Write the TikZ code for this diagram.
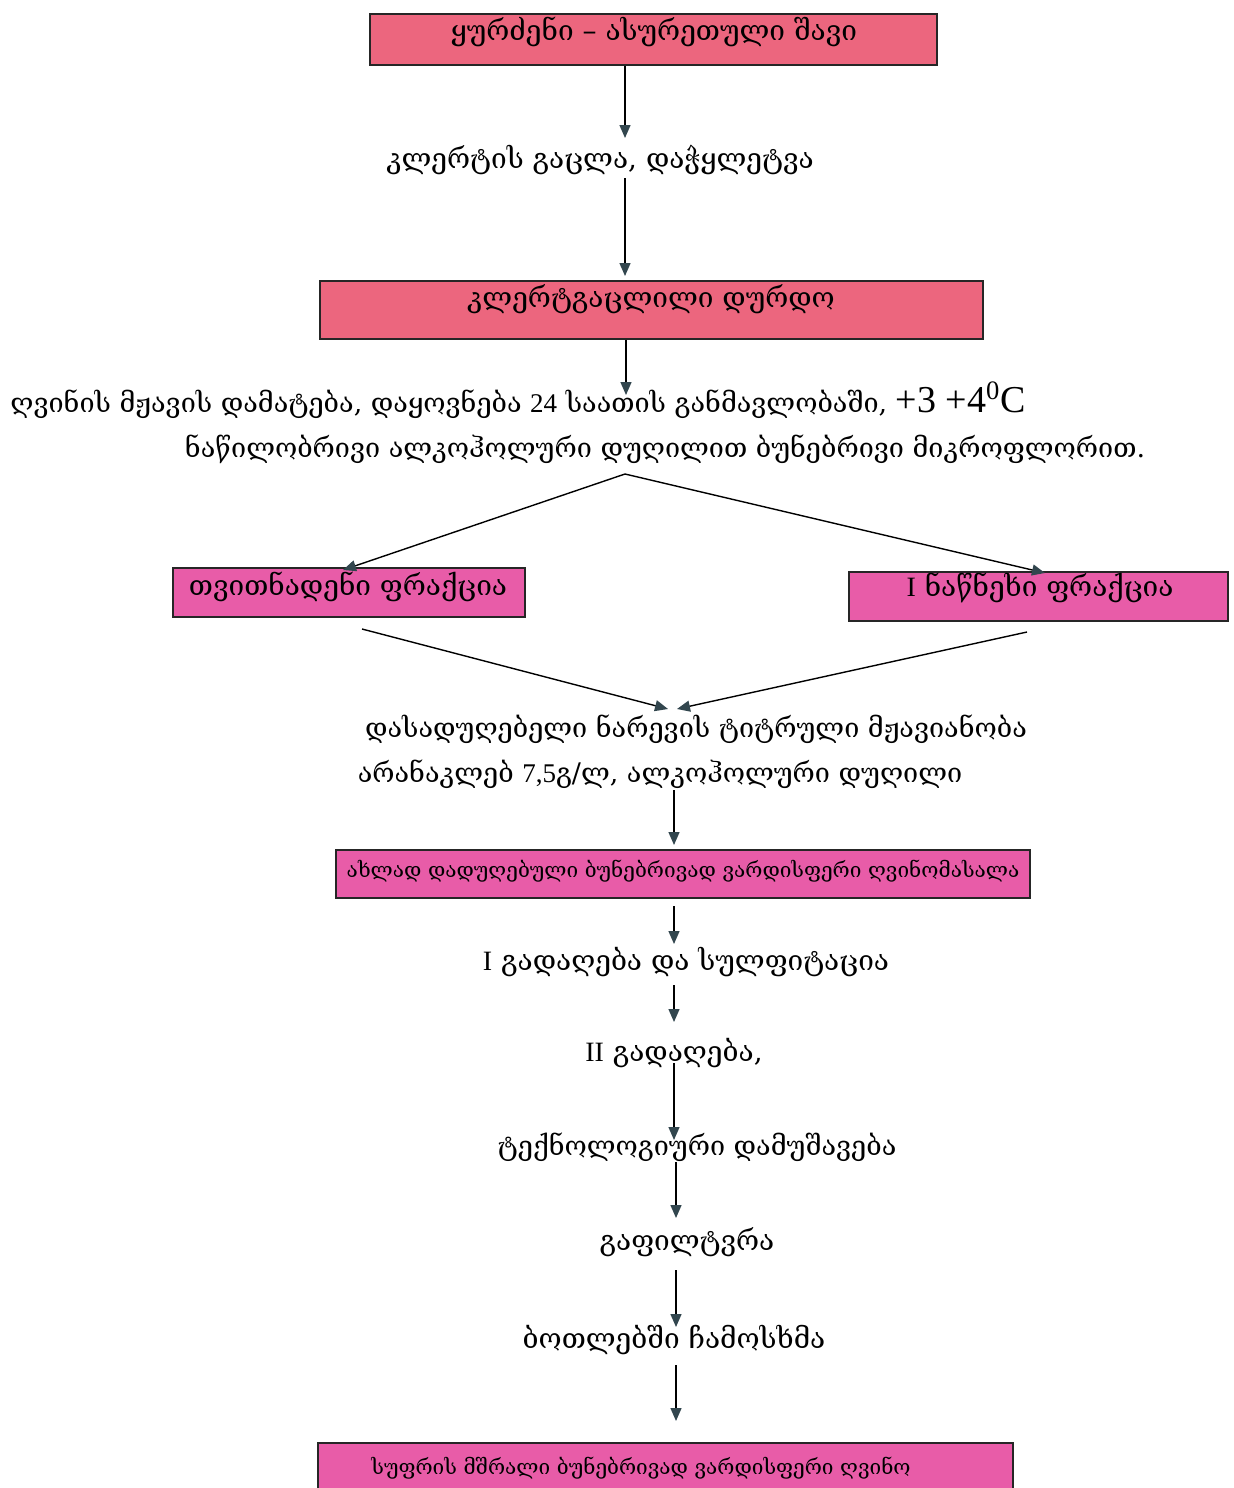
\documentclass[tikz,border=0pt]{standalone}
\usepackage{fontspec}
\setmainfont{DejaVu Serif}
\newfontfamily\lib{Liberation Serif}
\usetikzlibrary{arrows.meta}
\definecolor{redpink}{RGB}{236,102,126}
\definecolor{magpink}{RGB}{232,92,168}
\definecolor{tipc}{RGB}{50,70,78}
\tikzset{
  boxA/.style={draw=black!85, line width=0.8pt, fill=redpink, inner sep=0pt},
  boxB/.style={draw=black!85, line width=0.8pt, fill=magpink, inner sep=0pt},
  txt/.style={inner sep=1pt, font=\fontsize{14}{16}\selectfont},
  mtxt/.style={inner sep=1pt, font=\fontsize{13.5}{16}\selectfont},
  stxt/.style={inner sep=1pt, font=\fontsize{10.4}{13}\selectfont},
  arr/.style={line width=0.7pt, -{Triangle[length=6.5pt,width=5.5pt,color=tipc]}}
}
\begin{document}
\begin{tikzpicture}[x=0.5pt,y=-0.5pt]
\useasboundingbox (0,0) rectangle (1233,1488);
\fill[white] (0,0) rectangle (1233,1488);
% boxes
\node[boxA, minimum width=283.5pt, minimum height=25.5pt] (b1) at (653.5,39.5) {};
\node[txt] (b1t) at (654,32) {ყურძენი – ასურეთული შავი};
\node[txt] (t1) at (600,160) {კლერტის გაცლა, დაჭყლეტვა};
\node[boxA, minimum width=331.5pt, minimum height=29pt] (b2) at (651.5,310) {};
\node[txt] (b2t) at (651,299) {კლერტგაცლილი დურდო};
\node[mtxt, anchor=west] (t2a) at (8,400) {ღვინის მჟავის დამატება, დაყოვნება {\lib 24} საათის განმავლობაში, {\lib\fontsize{19}{22}\selectfont +3 +4\textsuperscript{0}C}};
\node[mtxt] (t2b) at (665,449) {ნაწილობრივი ალკოჰოლური დუღილით ბუნებრივი მიკროფლორით.};
\node[boxB, minimum width=176pt, minimum height=24.5pt] (bl) at (349,592.5) {};
\node[txt] (blt) at (348,587) {თვითნადენი ფრაქცია};
\node[boxB, minimum width=189.5pt, minimum height=24.5pt] (br) at (1038.5,596.5) {};
\node[txt] (brt) at (1040,588) {{\lib I} ნაწნეხი ფრაქცია};
\node[mtxt] (t3a) at (696,729) {დასადუღებელი ნარევის ტიტრული მჟავიანობა};
\node[mtxt] (t3b) at (660,774) {არანაკლებ {\lib 7,5}გ/ლ, ალკოჰოლური დუღილი};
\node[boxB, minimum width=347pt, minimum height=24pt] (b3) at (683,874) {};
\node[stxt] (b3t) at (683,871) {ახლად დადუღებული ბუნებრივად ვარდისფერი ღვინომასალა};
\node[txt] (t4) at (686,962) {{\lib I} გადაღება და სულფიტაცია};
\node[txt] (t5) at (674,1053) {{\lib II} გადაღება,};
\node[mtxt] (t6) at (697,1147) {ტექნოლოგიური დამუშავება};
\node[txt] (t7) at (687,1242) {გაფილტვრა};
\node[txt] (t8) at (674,1340) {ბოთლებში ჩამოსხმა};
\node[boxB, minimum width=347.5pt, minimum height=25pt] (b4) at (665.5,1468) {};
\node[stxt] (b4t) at (641,1468) {სუფრის მშრალი ბუნებრივად ვარდისფერი ღვინო};
% coordinates for connector ends
\coordinate (x1) at (625,138);
\coordinate (s2) at (625,178);
\coordinate (x2) at (625,276);
\coordinate (x3) at (626,395);
\coordinate (apex) at (625,474);
\coordinate (tl) at (343,570);
\coordinate (tr) at (1045,573);
\coordinate (sl) at (362,629);
\coordinate (sr) at (1027,632);
\coordinate (ml) at (668,709);
\coordinate (mr) at (677,709);
\coordinate (s4) at (674,790);
\coordinate (x4) at (674,845);
\coordinate (s5) at (674,906);
\coordinate (x5) at (674,944);
\coordinate (s6) at (674,985);
\coordinate (x6) at (674,1022);
\coordinate (s7) at (674,1063);
\coordinate (x7) at (674,1140);
\coordinate (s8) at (676,1162);
\coordinate (x8) at (676,1218);
\coordinate (s9) at (676,1270);
\coordinate (x9) at (676,1327);
\coordinate (s10) at (676,1365);
\coordinate (x10) at (676,1421);
% connectors
\draw[arr] (b1.south -| x1) -- (x1);
\draw[arr] (s2) -- (x2);
\draw[arr] (b2.south -| x3) -- (x3);
\draw[arr] (apex) -- (tl);
\draw[arr] (apex) -- (tr);
\draw[arr] (sl) -- (ml);
\draw[arr] (sr) -- (mr);
\draw[arr] (s4) -- (x4);
\draw[arr] (s5) -- (x5);
\draw[arr] (s6) -- (x6);
\draw[arr] (s7) -- (x7);
\draw[arr] (s8) -- (x8);
\draw[arr] (s9) -- (x9);
\draw[arr] (s10) -- (x10);
\end{tikzpicture}
\end{document}
